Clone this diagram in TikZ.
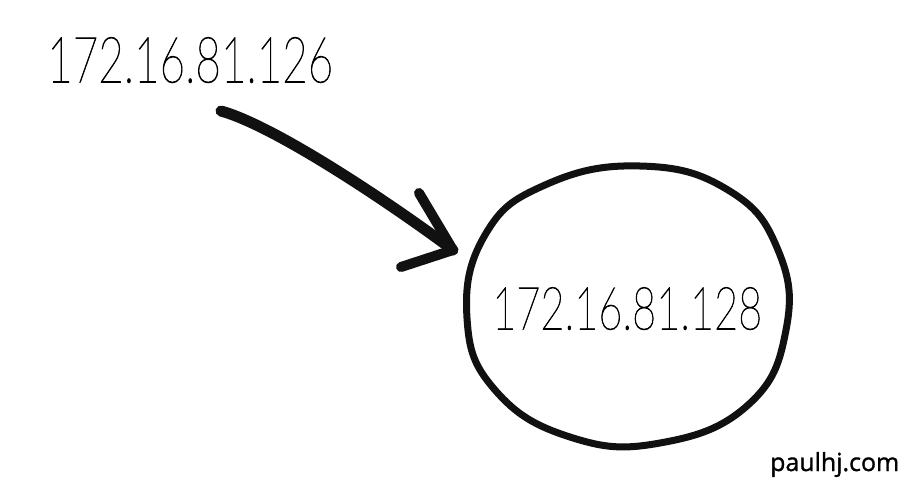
\documentclass[tikz,border=0pt]{standalone}
\usepackage{fontspec}
\usepackage{graphicx}
\newfontfamily\thinfont[FakeBold=1.5]{Lato Thin}
\newfontfamily\signfont[FakeBold=1.2]{Open Sans}
\definecolor{inkc}{HTML}{111111}
\begin{document}
\begin{tikzpicture}[x=1pt,y=-1pt,
  ink/.style={line width=11pt, line cap=round, line join=round, draw=inkc},
  ring/.style={line width=7pt, line join=round, draw=inkc},
  addr/.style={inner sep=0pt, anchor=south west, text=black}]
\useasboundingbox[fill=white] (0,0) rectangle (910,483);
% labels
\node[addr] (src) at (47,83) {\resizebox{286pt}{45pt}{\thinfont 172.16.81.126}};
\node[addr] (dst) at (492,330) {\resizebox{270pt}{42pt}{\thinfont 172.16.81.128}};
\node[inner sep=0pt, anchor=base west] (sign) at (770,471) {\resizebox{129pt}{!}{\signfont paulhj.com}};
% circle
\draw[ring] plot[smooth cycle, tension=0.75] coordinates {
  (467,318) (485,235) (545,185) (640,166) (728,190) (778,250)
  (786,330) (748,405) (660,443) (570,437) (495,390)};
% arrow
\coordinate (a0) at (221,111);
\coordinate (a1) at (453,250);
\coordinate (b1) at (419,193);
\coordinate (b2) at (401,267);
\draw[ink] (a0) .. controls (275,126) and (390,203) .. (a1);
\draw[ink, line width=10pt] (b1) -- (a1) -- (b2);
\end{tikzpicture}
\end{document}
